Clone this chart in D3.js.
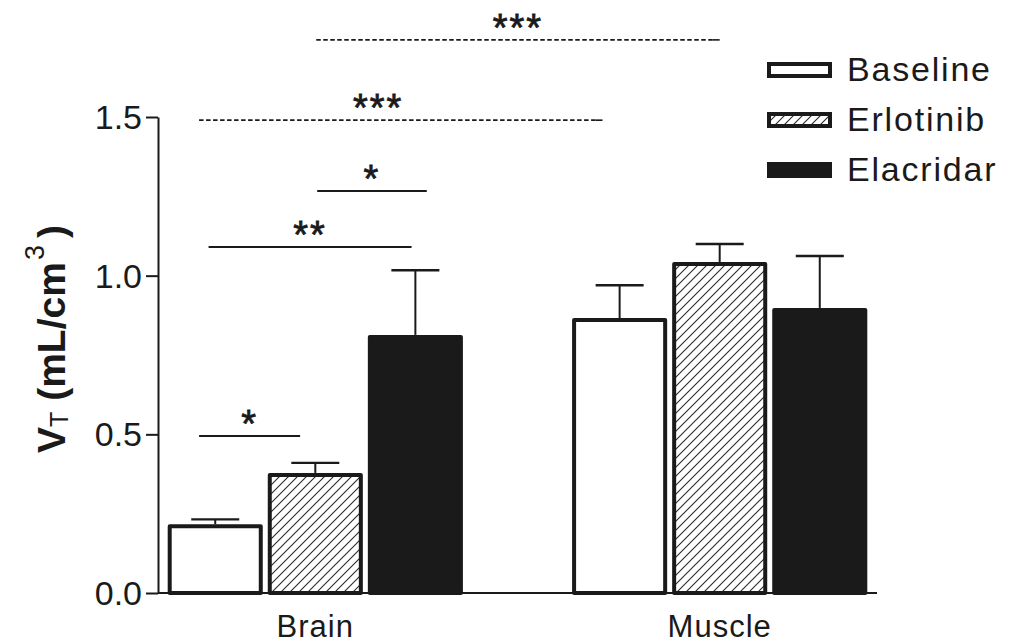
<!DOCTYPE html>
<html>
<head>
<meta charset="utf-8">
<script src="https://cdn.jsdelivr.net/npm/d3@7"></script>
<style>
  html, body { margin: 0; padding: 0; background: #ffffff; }
  svg { display: block; font-family: "Liberation Sans", Arial, sans-serif; }
</style>
</head>
<body>
<svg id="chart" width="1022" height="644"></svg>
<script>
// ---- data ----
const groups = ["Brain", "Muscle"];
const series = ["Baseline", "Erlotinib", "Elacridar"];
const brainMeans = [0.21, 0.372, 0.807];
const brainErrors = [0.022, 0.038, 0.21];
const muscleMeans = [0.86, 1.037, 0.892];
const muscleErrors = [0.11, 0.063, 0.17];
const yTicks = [0.0, 0.5, 1.0, 1.5];
// significance brackets: [groupIdx, seriesIdx, fraction across bar]
const sigFrom = [[0,0,0.33],[0,0,0.43],[0,1,0.52],[0,0,0.33],[0,1,0.51]];
const sigTo   = [[0,1,0.34],[0,2,0.46],[0,2,0.62],[1,0,0.32],[1,1,0.50]];
const sigLevel = [0.495, 1.09, 1.267, 1.49, 1.743];
const sigLabel = ["*", "**", "*", "***", "***"];
const sigDashed = [false, false, false, true, true];
const sigLabelPos = [0.5, 0.5, 0.5, 0.444, 0.5];

const means = [brainMeans, muscleMeans];
const errors = [brainErrors, muscleErrors];

// ---- layout ----
const svg = d3.select("#chart");
const ink = "#1a1a1a";
const y = d3.scaleLinear().domain([0, 1.5]).range([593, 117]);
const x0 = d3.scaleBand().domain(groups).range([158, 877]).paddingInner(0.27).paddingOuter(0.024);
const x1 = d3.scaleBand().domain(series).range([0, x0.bandwidth()]).paddingInner(0.05);

// hatch pattern
const defs = svg.append("defs");
const pw = 9;
const pat = defs.append("pattern").attr("id", "hatch").attr("patternUnits", "userSpaceOnUse")
  .attr("width", pw).attr("height", pw);
pat.append("rect").attr("width", pw).attr("height", pw).attr("fill", "#fff");
pat.append("path")
  .attr("d", `M0,${pw} L${pw},0 M${-pw/2},${pw/2} L${pw/2},${-pw/2} M${pw/2},${pw*1.5} L${pw*1.5},${pw/2}`)
  .attr("stroke", "#2a2a2a").attr("stroke-width", 1.1);

const fills = { Baseline: "#ffffff", Erlotinib: "url(#hatch)", Elacridar: ink };
const sw = 4;

// bars
const rows = [];
groups.forEach((g, gi) => series.forEach((s, si) => rows.push({ g, s, gi, si, v: means[gi][si], e: errors[gi][si] })));

const bars = svg.append("g");
bars.selectAll("rect").data(rows).join("rect")
  .attr("x", d => x0(d.g) + x1(d.s) + sw / 2)
  .attr("width", x1.bandwidth() - sw)
  .attr("y", d => y(d.v))
  .attr("height", d => y(0) - y(d.v))
  .attr("fill", d => fills[d.s])
  .attr("stroke", ink).attr("stroke-width", sw).attr("stroke-linejoin", "round");

// error bars (upper only)
const eb = svg.append("g").attr("stroke", ink);
rows.forEach(d => {
  const cx = x0(d.g) + x1(d.s) + x1.bandwidth() / 2;
  eb.append("line").attr("x1", cx).attr("x2", cx).attr("y1", y(d.v) - sw / 2).attr("y2", y(d.v + d.e)).attr("stroke-width", 2);
  eb.append("line").attr("x1", cx - 24).attr("x2", cx + 24).attr("y1", y(d.v + d.e)).attr("y2", y(d.v + d.e)).attr("stroke-width", 2.4);
});

// axes
const yAxis = svg.append("g").attr("transform", `translate(158,0)`)
  .call(d3.axisLeft(y).tickValues(yTicks).tickFormat(d3.format(".1f")).tickSize(12).tickSizeOuter(0).tickPadding(4));
yAxis.selectAll("path, line").attr("stroke", ink).attr("stroke-width", 2);
yAxis.selectAll("text").attr("fill", ink).attr("font-size", 34).attr("font-family", "Liberation Sans, Arial, sans-serif").attr("dy", "0.34em");

const xAxis = svg.append("g").attr("transform", `translate(0,593)`)
  .call(d3.axisBottom(x0).tickSize(0).tickSizeOuter(0).tickPadding(22));
xAxis.select("path").attr("stroke", ink).attr("stroke-width", 2).attr("d", "M158,0H877");
xAxis.selectAll("text").attr("fill", ink).attr("font-size", 31).attr("letter-spacing", 1).attr("font-family", "Liberation Sans, Arial, sans-serif");

// y label
const yl = svg.append("text").attr("transform", "translate(65,339) rotate(-90)")
  .attr("text-anchor", "middle").attr("fill", ink).attr("font-size", 39).attr("font-weight", "bold");
yl.append("tspan").text("V");
yl.append("tspan").text("T").attr("font-size", 25).attr("font-weight", "normal").attr("dy", 3);
yl.append("tspan").text(" (mL/cm").attr("dy", -3);
yl.append("tspan").text("3").attr("font-size", 27).attr("font-weight", "normal").attr("dy", -21).attr("dx", 2);
yl.append("tspan").text(")").attr("dy", 21).attr("dx", 7);

// significance annotations
const barX = ([gi, si, f]) => x0(groups[gi]) + x1(series[si]) + f * x1.bandwidth();
const sig = svg.append("g");
sigLevel.forEach((lv, i) => {
  const xa = barX(sigFrom[i]), xb = barX(sigTo[i]), yy = y(lv);
  if (sigDashed[i]) {
    sig.append("line").attr("x1", xa).attr("x2", xb - 7).attr("y1", yy).attr("y2", yy)
      .attr("stroke", ink).attr("stroke-width", 1.6).attr("stroke-dasharray", "4.5,2.5");
    sig.append("line").attr("x1", xb - 7).attr("x2", xb).attr("y1", yy).attr("y2", yy)
      .attr("stroke", ink).attr("stroke-width", 1.6);
  } else {
    sig.append("line").attr("x1", xa).attr("x2", xb).attr("y1", yy).attr("y2", yy)
      .attr("stroke", ink).attr("stroke-width", 2);
  }
  sig.append("text").attr("x", xa + (xb - xa) * sigLabelPos[i]).attr("y", yy + 1)
    .attr("text-anchor", "middle").attr("fill", ink).attr("font-size", 38).attr("letter-spacing", 2)
    .attr("stroke", ink).attr("stroke-width", 0.8)
    .text(sigLabel[i]);
});

// legend
const lg = svg.append("g");
series.forEach((s, i) => {
  const cy = 70 + i * 50;
  lg.append("rect").attr("x", 769).attr("y", cy - 6).attr("width", 61).attr("height", 12)
    .attr("fill", fills[s]).attr("stroke", ink).attr("stroke-width", sw);
  lg.append("text").attr("x", 847).attr("y", cy + 11).attr("fill", ink)
    .attr("font-size", 34).attr("letter-spacing", 1.8).text(s);
});
</script>
</body>
</html>
